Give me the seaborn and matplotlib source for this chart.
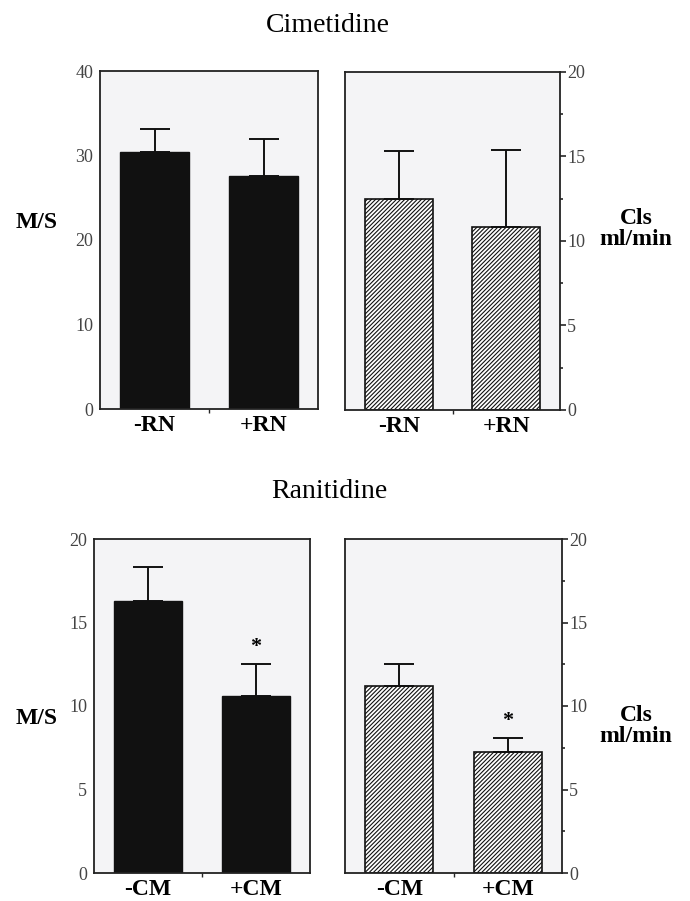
# Import libraries
import numpy as np
import pandas as pd
import seaborn as sns
import matplotlib.pyplot as plt
from matplotlib.ticker import MultipleLocator, FixedLocator

# Values (mean, upper error bar)
top_groups = ["-RN", "+RN"]
cim_ms = [30.4, 27.6]
cim_ms_err = [2.7, 4.4]
cim_cls = [12.5, 10.8]
cim_cls_err = [2.8, 4.6]

bot_groups = ["-CM", "+CM"]
ran_ms = [16.3, 10.6]
ran_ms_err = [2.0, 1.9]
ran_cls = [11.2, 7.25]
ran_cls_err = [1.3, 0.85]
ran_star = [False, True]

sns.set_style("white")
plt.rcParams["font.family"] = ["Liberation Serif", "DejaVu Serif"]
plt.rcParams["text.color"] = "black"
plt.rcParams["hatch.linewidth"] = 0.8
plt.rcParams["hatch.color"] = "#3a3a3a"

fig = plt.figure(figsize=(6.9, 9.01), dpi=100)

W, H = 690, 901
def rect(x0, x1, y0, y1):
    return [x0 / W, 1 - y1 / H, (x1 - x0) / W, (y1 - y0) / H]

panels = [
    (rect(100, 318, 71, 409), top_groups, cim_ms, cim_ms_err, None, 40, 10, 5, "left"),
    (rect(345, 560, 72, 410), top_groups, cim_cls, cim_cls_err, None, 20, 5, 2.5, "right"),
    (rect(94, 310, 539, 873), bot_groups, ran_ms, ran_ms_err, ran_star, 20, 5, 2.5, "left"),
    (rect(345, 562, 539, 873), bot_groups, ran_cls, ran_cls_err, ran_star, 20, 5, 2.5, "right"),
]

for pos, groups, vals, errs, stars, ymax, major, minor, side in panels:
    ax = fig.add_axes(pos)
    ax.set_facecolor("#f4f4f6")
    df = pd.DataFrame({"group": groups, "value": vals})
    if side == "left":
        sns.barplot(data=df, x="group", y="value", color="#111111", width=0.63,
                    saturation=1, edgecolor="#111111", linewidth=1, ax=ax)
    else:
        sns.barplot(data=df, x="group", y="value", color="white", width=0.63,
                    saturation=1, edgecolor="#111111", linewidth=1.2,
                    hatch="////////", ax=ax)
    xs = np.arange(len(groups))
    ax.errorbar(xs, vals, yerr=[np.zeros(len(errs)), errs], fmt="none",
                ecolor="#111111", elinewidth=1.4, capsize=11, capthick=1.4, zorder=3)
    if stars is not None:
        for x, v, e, s in zip(xs, vals, errs, stars):
            if s:
                ax.annotate("*", (x, v + e), xytext=(0, 5), textcoords="offset points",
                            ha="center", va="bottom", fontsize=16, fontweight="bold")

    ax.set_xlim(-0.5, 1.5)
    ax.set_ylim(0, ymax)
    ax.set_xlabel("")
    ax.set_ylabel("")
    ax.set_xticks(xs)
    ax.set_xticklabels(groups, fontsize=17, fontweight="bold")
    ax.xaxis.set_minor_locator(FixedLocator([0.5]))
    ax.tick_params(axis="x", which="major", length=0, pad=4, labelcolor="black")
    ax.tick_params(axis="x", which="minor", length=3, width=1, direction="out", bottom=True)

    ax.yaxis.set_major_locator(MultipleLocator(major))
    ax.yaxis.set_minor_locator(MultipleLocator(minor))
    if side == "right":
        ax.yaxis.tick_right()
    ax.tick_params(axis="y", which="major", length=4, width=1.2, direction="out",
                   labelsize=13, labelcolor="#444444", pad=1)
    ax.tick_params(axis="y", which="minor", length=2, width=1.2, direction="out")
    for sp in ax.spines.values():
        sp.set_visible(True)
        sp.set_linewidth(1.3)
        sp.set_color("#222222")

# Titles and side labels
fig.text(328 / W, 1 - 26 / H, "Cimetidine", ha="center", va="center", fontsize=20)
fig.text(329 / W, 1 - 492 / H, "Ranitidine", ha="center", va="center", fontsize=20)
for yc, ym in [(223, 229), (718, 726)]:
    fig.text(37 / W, 1 - yc / H, "M/S", ha="center", va="center", fontsize=17, fontweight="bold")
    fig.text(636 / W, 1 - ym / H, "Cls\nml/min", ha="center", va="center", fontsize=17,
             fontweight="bold", linespacing=0.95)

plt.savefig("out.png", dpi=100)
